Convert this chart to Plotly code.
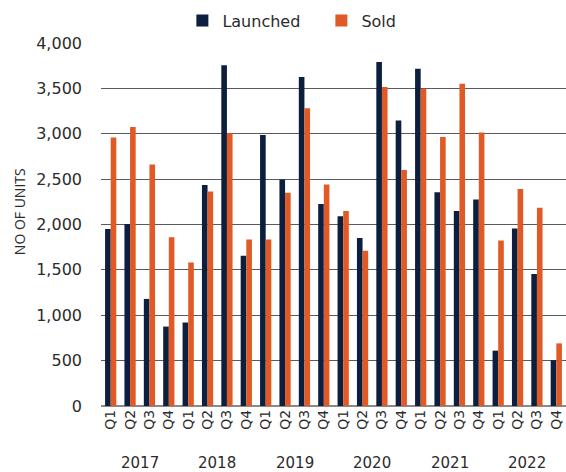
import plotly.graph_objects as go

years = ["2017", "2018", "2019", "2020", "2021", "2022"]
quarters = ["Q1", "Q2", "Q3", "Q4"]

launched = [1950, 2005, 1180, 875, 920, 2435, 3755, 1655,
            2985, 2495, 3625, 2225, 2090, 1850, 3790, 3145,
            3715, 2355, 2150, 2275, 610, 1955, 1455, 505]
sold = [2960, 3075, 2660, 1860, 1580, 2365, 3005, 1835,
        1835, 2350, 3280, 2440, 2150, 1710, 3515, 2600,
        3495, 2965, 3550, 3015, 1825, 2390, 2185, 690]

y_ticks = [0, 500, 1000, 1500, 2000, 2500, 3000, 3500, 4000]

NAVY = "#0C1F3F"
ORANGE = "#E05A26"
FONT = "DejaVu Sans"
TEXT = "#2b2b2b"

# one slot per quarter, labelled by quarter and grouped by year underneath
slots = list(range(len(years) * len(quarters)))
slot_labels = [q for _ in years for q in quarters]

fig = go.Figure()
fig.add_trace(go.Bar(name="Launched", x=slots, y=launched,
                     marker=dict(color=NAVY, line=dict(width=0))))
fig.add_trace(go.Bar(name="Sold", x=slots, y=sold,
                     marker=dict(color=ORANGE, line=dict(width=0))))

annotations = []
for i, yr in enumerate(years):
    centre = i * len(quarters) + (len(quarters) - 1) / 2
    annotations.append(dict(
        x=centre, xref="x", y=0, yref="paper", yanchor="middle",
        yshift=-57, text=yr, showarrow=False,
        font=dict(size=15, color=TEXT, family=FONT),
    ))
annotations.append(dict(
    x=0, xref="paper", xanchor="center", xshift=-82,
    y=0.534, yref="paper", yanchor="middle",
    text="NO OF UNITS", textangle=-90, showarrow=False,
    font=dict(size=14, color=TEXT, family="Open Sans"),
))

fig.update_layout(
    width=566, height=472,
    margin=dict(l=101, r=0, t=43, b=66),
    paper_bgcolor="white", plot_bgcolor="white",
    barmode="group", bargap=0.42, bargroupgap=0,
    font=dict(family=FONT, size=14, color=TEXT),
    showlegend=True,
    legend=dict(orientation="h", x=0.175, xanchor="left", y=1.015,
                yanchor="bottom", font=dict(size=16, color=TEXT),
                entrywidth=94, entrywidthmode="pixels",
                traceorder="normal", borderwidth=0),
    annotations=annotations,
)

fig.update_yaxes(
    range=[0, 4000], tickvals=y_ticks, tickformat=",",
    showgrid=True, gridcolor="#5a5a5a", gridwidth=1,
    zeroline=True, zerolinecolor="#8a8a8a", zerolinewidth=2,
    ticks="", ticklabelstandoff=18,
    tickfont=dict(size=16, color=TEXT),
)
fig.update_xaxes(
    range=[-0.5, len(slots) - 0.5],
    tickvals=slots, ticktext=slot_labels, tickangle=-90,
    showgrid=False, zeroline=False, showline=False, ticks="",
    tickfont=dict(size=14, color=TEXT),
)

fig.write_html("out.html")
